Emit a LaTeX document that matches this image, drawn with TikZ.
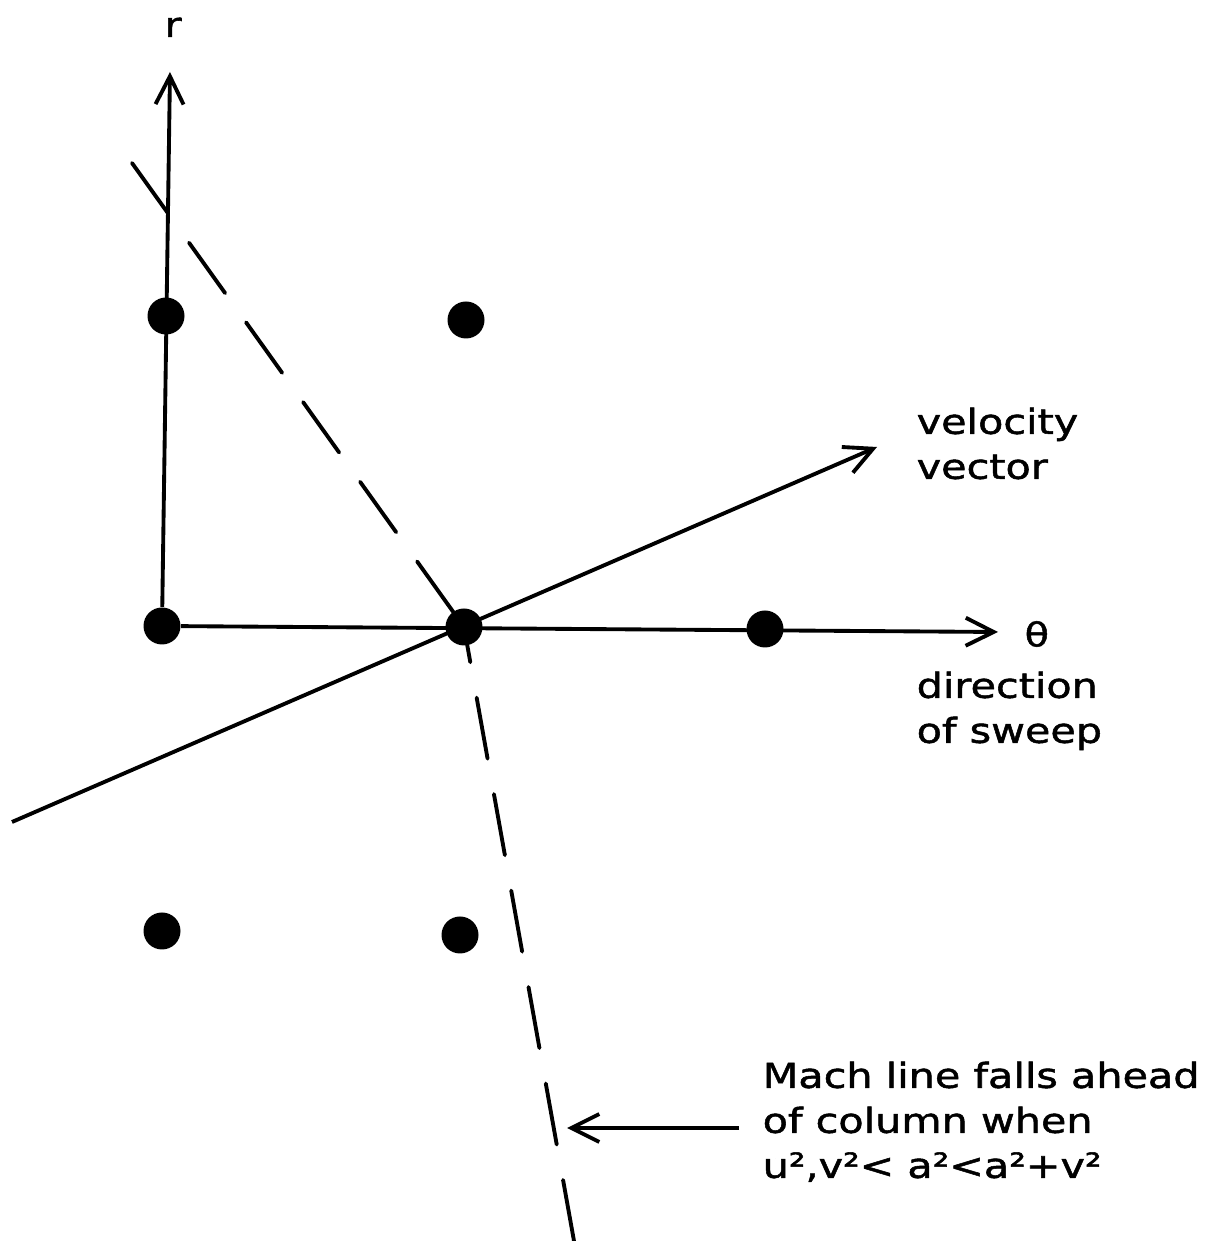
\documentclass[tikz,border=0pt]{standalone}
\usepackage{fontspec}
\setmainfont{DejaVu Sans}[FakeStretch=1.2, FakeBold=1.5]
\usetikzlibrary{positioning, arrows.meta}

\begin{document}
\begin{tikzpicture}[
		gridpt/.style={circle, fill=black, inner sep=0pt, minimum size=0.37cm},
		axis/.style={-{Straight Barb[length=0.28cm, width=0.28cm]}, line width=1.1pt},
		mach/.style={line width=1.1pt, line cap=round, dash pattern=on 0.62cm off 0.36cm},
		lettering/.style={inner sep=0pt, font=\fontsize{9.8}{12.8}\selectfont, align=left}
		]
		\useasboundingbox (0,0) rectangle (12.07,12.41);
		
		% Grid points of the sweep
		\node[gridpt] (p01) at (1.66,9.25) {};
		\node[gridpt] (p11) at (4.66,9.21) {};
		\node[gridpt] (p00) at (1.62,6.15) {};
		\node[gridpt] (p10) at (4.64,6.14) {};
		\node[gridpt] (p20) at (7.65,6.12) {};
		\node[gridpt] (p0m) at (1.62,3.10) {};
		\node[gridpt] (p1m) at (4.60,3.06) {};
		
		% Ends of the arrows and of the Mach line
		\coordinate (rtip) at (1.70,11.69);
		\coordinate (thtip) at (9.98,6.09);
		\coordinate (vtail) at (0.12,4.19);
		\coordinate (vtip) at (8.77,7.94);
		\coordinate (mtop) at (1.32,10.78);
		\coordinate (mbot) at (5.74,0.00);
		\coordinate (ntail) at (7.39,1.13);
		\coordinate (ntip) at (5.67,1.13);
		
		% Axes and velocity vector
		\draw[axis] (p00) -- (rtip);
		\draw[axis] (p00) -- (thtip);
		\draw[axis] (vtail) -- (vtip);
		
		% Mach line
		\draw[mach] (mtop) -- (p10.center);
		\draw[mach] (mbot) -- (p10.center);
		\draw[axis] (ntail) -- (ntip);
		
		% Texts
		\node[lettering, anchor=base] (rlab) at (1.73,12.04) {r};
		\node[lettering, anchor=west, font=\fontsize{9.4}{11}\selectfont] (thlab) at (10.24,6.07) {θ};
		\node[lettering, anchor=north west] (vel) at (9.16,8.34) {velocity\\vector};
		\node[lettering, anchor=north west] (sweep) at (9.16,5.70) {direction\\of sweep};
		\node[lettering, anchor=north west] (note) at (7.62,1.80)
		{Mach line falls ahead\\of column when\\u²,v²< a²<a²+v²};
		
	\end{tikzpicture}
\end{document}
